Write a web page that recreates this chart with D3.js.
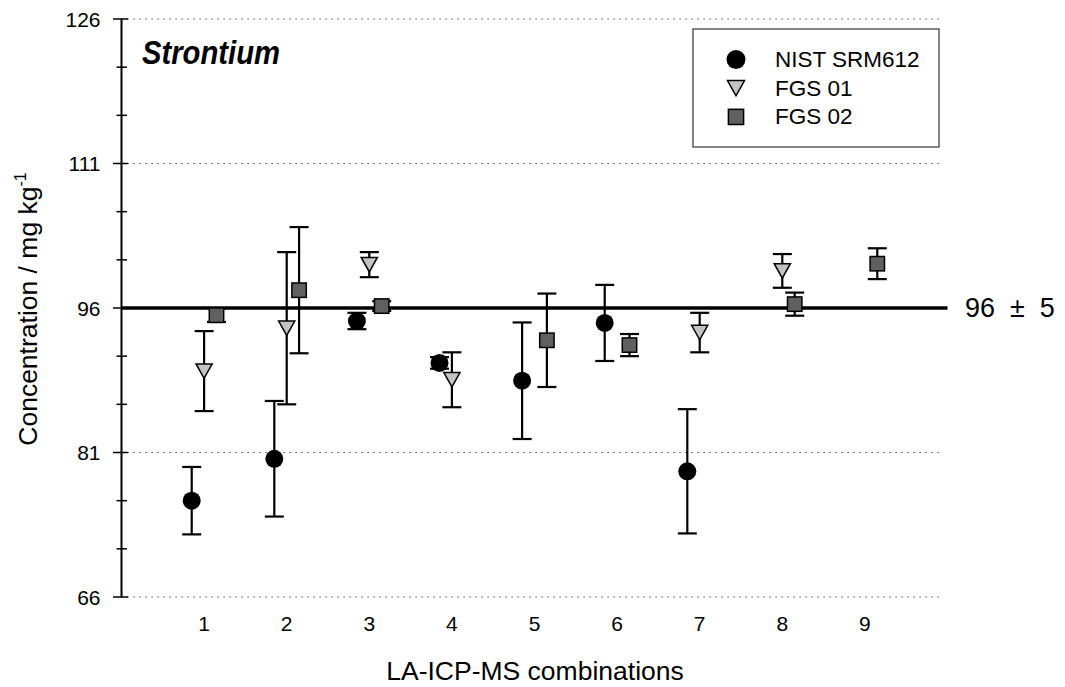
<!DOCTYPE html>
<html>
<head>
<meta charset="utf-8">
<script src="https://cdn.jsdelivr.net/npm/d3@7"></script>
<style>
  body { margin: 0; background: #fff; }
  svg { font-family: "Liberation Sans", Arial, Helvetica, sans-serif; }
</style>
</head>
<body>
<div id="chart-area"></div>
<script>
const width = 1065, height = 687;

const combos = [1, 2, 3, 4, 5, 6, 7, 8, 9];
const nistVal = [76.0, 80.35, 94.65, 90.3, 88.45, 94.45, 79.05, null, null];
const nistErr = [3.5, 6.0, 0.85, 0.6, 6.05, 3.95, 6.45, null, null];
const fgs01Val = [89.45, 93.9, 100.5, 88.55, null, null, 93.45, 99.85, null];
const fgs01Err = [4.15, 7.9, 1.3, 2.85, null, null, 2.05, 1.75, null];
const fgs02Val = [95.25, 97.85, 96.2, null, 92.65, 92.15, null, 96.4, 100.6];
const fgs02Err = [0.7, 6.55, 0.5, null, 4.85, 1.15, null, 1.2, 1.6];
const yTicks = [66, 81, 96, 111, 126];
const yMinor = [71, 76, 86, 91, 101, 106, 116, 121];
const refValue = 96, refUnc = 5;

const series = [
  {name: 'NIST SRM612', vals: nistVal, errs: nistErr, shape: 'circle', offset: -0.15},
  {name: 'FGS 01', vals: fgs01Val, errs: fgs01Err, shape: 'triangle', offset: 0},
  {name: 'FGS 02', vals: fgs02Val, errs: fgs02Err, shape: 'square', offset: 0.15}
];

const svg = d3.select('#chart-area').append('svg')
  .attr('width', width)
  .attr('height', height)

const x = d3.scaleLinear().domain([0, 10]).range([121.5, 947.5]);
const y = d3.scaleLinear().domain([66, 126]).range([597, 19]);

// dotted grid
svg.append('g').selectAll('line').data(yTicks.filter(d => d !== refValue)).enter().append('line')
  .attr('x1', x(0)).attr('x2', x(9.93))
  .attr('y1', d => y(d)).attr('y2', d => y(d))
  .attr('stroke', '#222').attr('stroke-width', 1.2)
  .attr('stroke-dasharray', '1.2,4.8')

// reference line
svg.append('line')
  .attr('x1', x(0)).attr('x2', x(10))
  .attr('y1', y(refValue)).attr('y2', y(refValue))
  .attr('stroke', '#000').attr('stroke-width', 3.5)

svg.append('text')
  .attr('x', 965).attr('y', y(refValue) + 9)
  .attr('font-size', 27)
  .style('white-space', 'pre')
  .text(`${refValue}  ±  ${refUnc}`)

// y axis
const yAxis = svg.append('g').attr('transform', `translate(${x(0)},0)`)
yAxis.append('line').attr('y1', y(126)).attr('y2', y(66)).attr('stroke', '#000').attr('stroke-width', 2)
yAxis.selectAll('.major').data(yTicks).enter().append('line')
  .attr('x1', -8.5).attr('x2', 6.5)
  .attr('y1', d => y(d)).attr('y2', d => y(d))
  .attr('stroke', '#000').attr('stroke-width', 1.5)
yAxis.selectAll('.minor').data(yMinor).enter().append('line')
  .attr('x1', -5).attr('x2', 5.5)
  .attr('y1', d => y(d)).attr('y2', d => y(d))
  .attr('stroke', '#000').attr('stroke-width', 1.5)
yAxis.selectAll('text').data(yTicks).enter().append('text')
  .attr('x', -21).attr('y', d => y(d))
  .attr('text-anchor', 'end').attr('dominant-baseline', 'central')
  .attr('font-size', 21)
  .text(d => d)

// x tick labels (no axis line)
svg.append('g').selectAll('text').data(combos).enter().append('text')
  .attr('x', d => x(d)).attr('y', 623)
  .attr('text-anchor', 'middle').attr('dominant-baseline', 'central')
  .attr('font-size', 21)
  .text(d => d)

// axis titles
svg.append('text')
  .attr('x', 535).attr('y', 680)
  .attr('text-anchor', 'middle').attr('font-size', 26.5)
  .text('LA-ICP-MS combinations')

const yt = svg.append('text')
  .attr('transform', 'translate(37,309) rotate(-90)')
  .attr('text-anchor', 'middle').attr('font-size', 26.5)
yt.append('tspan').text('Concentration / mg kg')
yt.append('tspan').attr('font-size', 16).attr('dy', -11).text('-1')

// panel title
svg.append('text')
  .attr('x', 142).attr('y', 64)
  .attr('font-size', 34).attr('font-weight', 'bold').attr('font-style', 'italic')
  .attr('textLength', 138).attr('lengthAdjust', 'spacingAndGlyphs')
  .text('Strontium')

function drawMarker(sel, shape, size) {
  if (shape === 'circle') {
    sel.append('circle').attr('r', size / 2).attr('fill', '#000')
  } else if (shape === 'triangle') {
    const w = size * 0.9, h = size * 0.8;
    sel.append('path')
      .attr('d', `M${-w / 2},${-h / 2}L${w / 2},${-h / 2}L0,${h / 2}Z`)
      .attr('fill', '#c3c3c3').attr('stroke', '#000').attr('stroke-width', 1.5)
  } else {
    const s = size * 0.8;
    sel.append('rect')
      .attr('x', -s / 2).attr('y', -s / 2).attr('width', s).attr('height', s)
      .attr('fill', '#606060').attr('stroke', '#000').attr('stroke-width', 1.5)
  }
}

// error bars + markers
const capW = 9.5;
series.forEach(s => {
  const pts = combos.map((c, i) => ({c: c, v: s.vals[i], e: s.errs[i]})).filter(d => d.v !== null);
  const g = svg.append('g')
  const eb = g.selectAll('.eb').data(pts).enter().append('g')
    .attr('stroke', '#000').attr('stroke-width', 2.2)
  eb.append('line')
    .attr('x1', d => x(d.c + s.offset)).attr('x2', d => x(d.c + s.offset))
    .attr('y1', d => y(d.v + d.e)).attr('y2', d => y(d.v - d.e))
  eb.append('line')
    .attr('x1', d => x(d.c + s.offset) - capW).attr('x2', d => x(d.c + s.offset) + capW)
    .attr('y1', d => y(d.v + d.e)).attr('y2', d => y(d.v + d.e))
  eb.append('line')
    .attr('x1', d => x(d.c + s.offset) - capW).attr('x2', d => x(d.c + s.offset) + capW)
    .attr('y1', d => y(d.v - d.e)).attr('y2', d => y(d.v - d.e))
  g.selectAll('.mk').data(pts).enter().append('g')
    .attr('transform', d => `translate(${x(d.c + s.offset)},${y(d.v)})`)
    .each(function() { drawMarker(d3.select(this), s.shape, 18) })
})

// legend
const lg = svg.append('g').attr('transform', 'translate(693,29)')
lg.append('rect').attr('width', 246).attr('height', 118)
  .attr('fill', '#fff').attr('stroke', '#333').attr('stroke-width', 1.2)
const li = lg.selectAll('.item').data(series).enter().append('g')
  .attr('transform', (d, i) => `translate(43,${30.5 + i * 28.7})`)
li.each(function(d) { drawMarker(d3.select(this), d.shape, 19) })
li.append('text')
  .attr('x', 39).attr('dominant-baseline', 'central')
  .attr('font-size', 22.5)
  .text(d => d.name)
</script>
</body>
</html>
